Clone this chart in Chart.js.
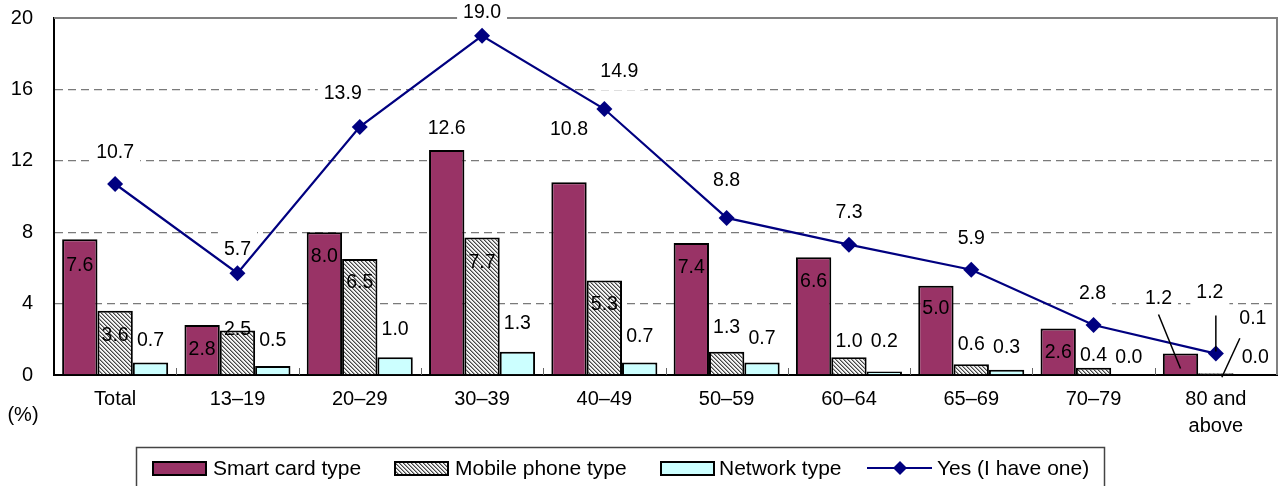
<!DOCTYPE html>
<html><head><meta charset="utf-8">
<script src="https://cdn.jsdelivr.net/npm/chart.js@4.4.1/dist/chart.umd.min.js"></script>
<style>html,body{margin:0;padding:0;background:#fff;overflow:hidden}canvas{display:block}</style>
</head><body>
<canvas id="c" width="1286" height="486"></canvas>
<script>
// ---- data ----
const categories = ['Total', '13–19', '20–29', '30–39', '40–49', '50–59', '60–64', '65–69', '70–79', ['80 and', 'above']];
const smartCard   = [7.6, 2.8, 8.0, 12.6, 10.8, 7.4, 6.6, 5.0, 2.6, 1.2];
const mobilePhone = [3.6, 2.5, 6.5, 7.7, 5.3, 1.3, 1.0, 0.6, 0.4, 0.1];
const networkType = [0.7, 0.5, 1.0, 1.3, 0.7, 0.7, 0.2, 0.3, 0.0, 0.0];
const yesHaveOne  = [10.7, 5.7, 13.9, 19.0, 14.9, 8.8, 7.3, 5.9, 2.8, 1.2];
const seriesNames = ['Smart card type', 'Mobile phone type', 'Network type', 'Yes (I have one)'];
const yTickValues = [0, 4, 8, 12, 16, 20];
const unitLabel = '(%)';

// ---- label placement (style, relative to each mark) ----
const smartLabelStyle = {
  dx: [0, 0, 0, 0, 0, 0, 0, 0, 0, -22],
  dy: [25, 24, 23, -22, -54, 24, 23, 22, 23, -56],
  box: [0, 0, 0, 0, 0, 0, 0, 0, 0, 1],
  leaders: {9: {from: [0, 17], to: [0, 15]}}
};
const mobileLabelStyle = {
  dx: [0, 0, 0, 0, 0, 0, 0, 0, 0, 37],
  dy: [24, -2, 23, 24, 23, -25, -17, -21, -13, -56],
  box: [],
  leaders: {9: {from: [-13, 21], to: [6, 4]}}
};
const networkLabelStyle = {
  dx: [0, 0, 0, 0, 0, 0, 0, 0, 0, 4],
  dy: [-23, -26, -29, -29, -27, -25, -31, -23, -18, -18],
  box: [],
  leaders: {}
};
const lineLabelStyle = {
  dx: [0, 0, -17, 0, 15, 0, 0, 0, -1, -6],
  dy: [-32, -25, -34, -24, -38, -38, -33, -32, -32, -62],
  box: [1, 1, 1, 1, 1, 1, 1, 1, 1, 1],
  leaders: {9: {from: [6, 24], to: [0, -2]}}
};

const FONT = '"Liberation Sans", Arial, Helvetica, sans-serif';
const SMART = '#993366', NET = '#CCFFFF', NAVY = '#000080';

const canvas = document.getElementById('c');
const mainCtx = canvas.getContext('2d');

function makeHatch() {
  const c = document.createElement('canvas');
  c.width = 4; c.height = 4;
  const g = c.getContext('2d');
  const img = g.createImageData(4, 4);
  for (let y = 0; y < 4; y++) {
    for (let x = 0; x < 4; x++) {
      const d = ((x - y) % 4 + 4) % 4;
      const v = d === 0 ? 70 : (d === 1 ? 160 : 245);
      const k = (y * 4 + x) * 4;
      img.data[k] = v; img.data[k + 1] = v; img.data[k + 2] = v; img.data[k + 3] = 255;
    }
  }
  g.putImageData(img, 0, 0);
  return mainCtx.createPattern(c, 'repeat');
}
const hatch = makeHatch();

const framePlugin = {
  id: 'frame',
  beforeDatasetsDraw(chart) {
    const {ctx, chartArea: a} = chart;
    const xs = chart.scales.x;
    ctx.save();
    ctx.strokeStyle = '#808080';
    ctx.lineWidth = 2;
    ctx.beginPath();
    ctx.moveTo(a.left, a.top); ctx.lineTo(a.right, a.top); ctx.lineTo(a.right, a.bottom);
    ctx.stroke();
    ctx.lineWidth = 1;
    ctx.strokeStyle = '#666';
    for (let i = 1; i < categories.length; i++) {
      const x = Math.round((xs.getPixelForValue(i - 1) + xs.getPixelForValue(i)) / 2) + 0.5;
      ctx.beginPath(); ctx.moveTo(x, a.bottom); ctx.lineTo(x, a.bottom - 7); ctx.stroke();
    }
    ctx.restore();
  }
};

function eachLabel(chart, fn) {
  chart.data.datasets.forEach((ds, di) => {
    const meta = chart.getDatasetMeta(di);
    const st = ds.labelStyle;
    meta.data.forEach((el, i) => {
      fn(ds.data[i].toFixed(1), el, el.x + st.dx[i], el.y + st.dy[i], st, i);
    });
  });
}

const labelPlugin = {
  id: 'valueLabels',
  beforeDatasetsDraw(chart) {
    const ctx = chart.ctx;
    ctx.save();
    ctx.font = '19.5px ' + FONT;
    ctx.fillStyle = '#fff';
    eachLabel(chart, (txt, el, x, y, st, i) => {
      if (st.box[i]) {
        const w = ctx.measureText(txt).width + 12;
        ctx.fillRect(x - w / 2, y - 19, w, 38);
      }
    });
    ctx.restore();
  },
  afterDatasetsDraw(chart) {
    const ctx = chart.ctx;
    ctx.save();
    ctx.font = '19.5px ' + FONT;
    ctx.textAlign = 'center';
    ctx.textBaseline = 'middle';
    eachLabel(chart, (txt, el, x, y, st, i) => {
      const ld = st.leaders[i];
      if (ld) {
        ctx.strokeStyle = '#000';
        ctx.lineWidth = 1.5;
        ctx.beginPath();
        ctx.moveTo(x + ld.from[0], y + ld.from[1]);
        ctx.lineTo(el.x + ld.to[0], el.y + ld.to[1]);
        ctx.stroke();
      }
      ctx.fillStyle = '#000';
      ctx.fillText(txt, x, y + 1);
    });
    ctx.restore();
  }
};

const legendPlugin = {
  id: 'boxLegend',
  afterDraw(chart) {
    const ctx = chart.ctx;
    const ds = chart.data.datasets;
    ctx.save();
    ctx.strokeStyle = '#444';
    ctx.lineWidth = 1.5;
    ctx.strokeRect(136.5, 447.5, 968, 60);
    const cy = 468;
    const swatches = [
      {x: 153, w: 53, ds: 1, tx: 213},
      {x: 395, w: 53, ds: 2, tx: 455},
      {x: 661, w: 53, ds: 3, tx: 719}
    ];
    swatches.forEach(s => {
      const d = ds[s.ds];
      ctx.fillStyle = d.backgroundColor;
      ctx.fillRect(s.x, cy - 6, s.w, 13);
      ctx.strokeStyle = '#000';
      ctx.lineWidth = 2;
      ctx.strokeRect(s.x, cy - 6, s.w, 13);
    });
    const ld = ds[0];
    ctx.strokeStyle = ld.borderColor;
    ctx.lineWidth = 2;
    ctx.beginPath(); ctx.moveTo(867, cy); ctx.lineTo(932, cy); ctx.stroke();
    ctx.fillStyle = ld.pointBackgroundColor;
    ctx.beginPath();
    ctx.moveTo(900, cy - 7); ctx.lineTo(907, cy); ctx.lineTo(900, cy + 7); ctx.lineTo(893, cy); ctx.closePath();
    ctx.fill();
    ctx.fillStyle = '#000';
    ctx.font = '21px ' + FONT;
    ctx.textAlign = 'left';
    ctx.textBaseline = 'middle';
    swatches.forEach(s => ctx.fillText(ds[s.ds].label, s.tx, cy + 1));
    ctx.fillText(ld.label, 937, cy + 1);
    // unit label
    ctx.font = '20px ' + FONT;
    ctx.textAlign = 'center';
    ctx.fillText(unitLabel, 23, 415);
    ctx.restore();
  }
};

const barCommon = {
  type: 'bar',
  borderColor: '#000',
  borderWidth: 2,
  borderSkipped: 'bottom',
  categoryPercentage: 0.867,
  barPercentage: 1.0,
  order: 1
};

new Chart(canvas, {
  data: {
    labels: categories,
    datasets: [
      {
        type: 'line', label: seriesNames[3], data: yesHaveOne,
        borderColor: NAVY, borderWidth: 2.2, backgroundColor: NAVY,
        pointStyle: 'rectRot', pointRadius: 8, pointBackgroundColor: NAVY, pointBorderColor: NAVY,
        pointBorderWidth: 0, tension: 0, order: 0, labelStyle: lineLabelStyle
      },
      Object.assign({label: seriesNames[0], data: smartCard, backgroundColor: SMART, labelStyle: smartLabelStyle}, barCommon),
      Object.assign({label: seriesNames[1], data: mobilePhone, backgroundColor: hatch, labelStyle: mobileLabelStyle}, barCommon),
      Object.assign({label: seriesNames[2], data: networkType, backgroundColor: NET, labelStyle: networkLabelStyle}, barCommon)
    ]
  },
  options: {
    responsive: false,
    animation: false,
    devicePixelRatio: 1,
    layout: {padding: {top: 18, right: 9, left: 0, bottom: 0}},
    plugins: {legend: {display: false}, tooltip: {enabled: false}},
    scales: {
      x: {
        grid: {display: false, drawTicks: false},
        border: {display: true, color: '#000', width: 2},
        ticks: {font: {family: FONT, size: 20, lineHeight: 1.35}, color: '#000', padding: 11, maxRotation: 0, autoSkip: false},
        afterFit(s) { s.height = 111; s.paddingLeft = 0; s.paddingRight = 0; }
      },
      y: {
        min: 0, max: 20,
        afterBuildTicks(s) { s.ticks = yTickValues.map(v => ({value: v})); },
        grid: {
          drawTicks: false, lineWidth: 1.3,
          color: c => (c.tick && (c.tick.value === 0 || c.tick.value === 20)) ? 'rgba(0,0,0,0)' : '#7a7a7a'
        },
        border: {display: true, color: '#000', width: 2, dash: [8, 5]},
        ticks: {font: {family: FONT, size: 20}, color: '#000', padding: 21},
        afterFit(s) { s.width = 54; s.paddingTop = 0; s.paddingBottom = 0; }
      }
    }
  },
  plugins: [framePlugin, labelPlugin, legendPlugin]
});
</script>
</body></html>
